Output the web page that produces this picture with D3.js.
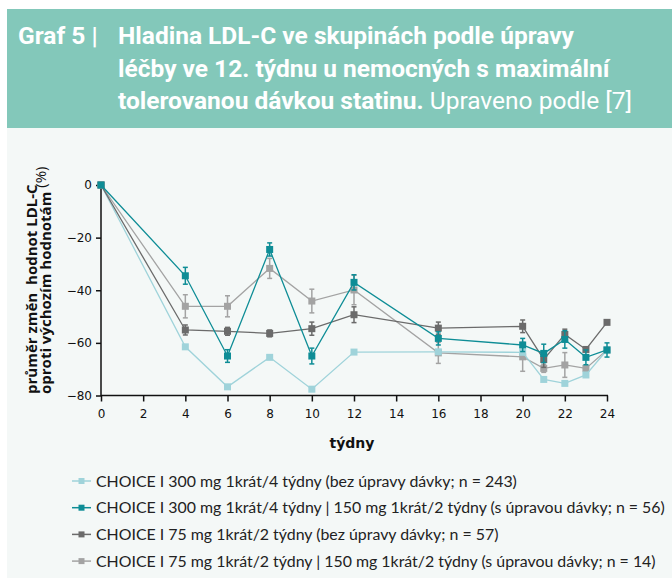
<!DOCTYPE html>
<html><head><meta charset="utf-8">
<script src="https://cdn.jsdelivr.net/npm/d3@7"></script>
<style>
html,body{margin:0;padding:0;background:#fff;}
svg{display:block;}
text{white-space:pre;}
</style></head>
<body>
<svg id="c" width="672" height="578"></svg>
<script>
const weeks = [0, 4, 6, 8, 10, 12, 16, 20, 21, 22, 23, 24];
const xTicks = [0, 2, 4, 6, 8, 10, 12, 14, 16, 18, 20, 22, 24];
const yTicks = [0, -20, -40, -60, -80];

const seriesNames = [
  "CHOICE I 300 mg 1krát/4 týdny (bez úpravy dávky; n = 243)",
  "CHOICE I 300 mg 1krát/4 týdny | 150 mg 1krát/2 týdny (s úpravou dávky; n = 56)",
  "CHOICE I 75 mg 1krát/2 týdny (bez úpravy dávky; n = 57)",
  "CHOICE I 75 mg 1krát/2 týdny | 150 mg 1krát/2 týdny (s úpravou dávky; n = 14)"
];
const seriesColors = ["#9fd3da", "#0e8d96", "#6b6b6b", "#a3a3a3"];

const lightBlue = [0, -61.5, -76.7, -65.5, -77.6, -63.5, -63.4, -63.6, -73.9, -75.4, -72.2, -62.7];
const lightBlueErr = [0, 0, 0, 0, 0, 0, 0, 0, 0, 0, 0, 0];
const teal = [0, -34.5, -65, -24.5, -65, -37, -58.3, -60.8, -64, -58.7, -65.5, -62.7];
const tealErr = [0, 3.2, 2.4, 2.5, 3, 2.9, 2.5, 2.5, 3.5, 3.3, 2.8, 2.7];
const darkGrey = [0, -55.1, -55.6, -56.4, -54.6, -49.3, -54.4, -53.7, -66.3, -56.8, -62.5, -52.2];
const darkGreyErr = [0, 1.9, 1.5, 1.3, 2.5, 3, 2.3, 2.4, 3, 2, 0, 0];
const lightGrey = [0, -46.1, -46.1, -31.7, -44.1, -39.9, -63.8, -65.3, -69.7, -68.4, -69.7, -62.7];
const lightGreyErr = [0, 4.4, 4, 3.8, 4.5, 5.6, 4, 5.5, 1.5, 4.7, 1, 0];

const titleLabel = "Graf 5 |";
const titleLines = ["Hladina LDL-C ve skupinách podle úpravy",
                    "léčby ve 12. týdnu u nemocných s maximální",
                    "tolerovanou dávkou statinu."];
const titleSuffix = " Upraveno podle [7]";
const yTitle1 = "průměr změn  hodnot LDL-C";
const yTitle2 = "oproti výchozím hodnotám";
const yUnit = " (%)";
const xTitle = "týdny";

const svg = d3.select("#c");
svg.append("rect").attr("x",7).attr("y",9).attr("width",665).attr("height",119).attr("fill","#83c8ba");
svg.append("rect").attr("x",7).attr("y",128).attr("width",665).attr("height",450).attr("fill","#f4f8f7");

const tf = "Roboto, 'Liberation Sans', sans-serif";
const tsz = 24.5;
svg.append("text").attr("x",18).attr("y",44).attr("fill","#fff").attr("font-family",tf)
  .attr("font-weight","bold").attr("font-size",tsz).text(titleLabel);
titleLines.forEach((t,i)=>{
  const tx = svg.append("text").attr("x",118).attr("y",44+i*32.5).attr("fill","#fff")
    .attr("font-family",tf).attr("font-size",tsz).attr("font-weight","bold").text(t);
  if(i===2){
    tx.append("tspan").attr("font-weight","normal").text(titleSuffix);
  }
});

const x = d3.scaleLinear().domain([0,24]).range([101,607]);
const y = d3.scaleLinear().domain([0,-80]).range([185,395.5]);
const af = "'DejaVu Sans', Verdana, sans-serif";
const yf = "'Open Sans', 'Noto Sans', sans-serif";
const lf = "Lato, 'Open Sans', sans-serif";

const xAxis = svg.append("g").attr("transform","translate(0,395.5)")
  .call(d3.axisBottom(x).tickValues(xTicks).tickSize(6).tickPadding(8).tickSizeOuter(0));
const yAxis = svg.append("g").attr("transform","translate(101,0)")
  .call(d3.axisLeft(y).tickValues(yTicks).tickSize(5).tickPadding(4).tickSizeOuter(0));
[xAxis,yAxis].forEach(a=>{
  a.selectAll("path,line").attr("stroke","#111").attr("stroke-width",1.5);
  a.selectAll("text").attr("font-family",af).attr("font-size",12).attr("fill","#111");
});
xAxis.select(".domain").attr("d","M101,0H608");
yAxis.select(".domain").attr("d","M0,183V396");

svg.append("text").attr("x",352).attr("y",448).attr("text-anchor","middle")
  .attr("font-family",af).attr("font-weight","bold").attr("font-size",14).attr("fill","#111").text(xTitle);
const yt = svg.append("g").attr("transform","translate(37,394) rotate(-90)");
yt.append("text").attr("x",0).attr("y",0).attr("font-family",yf).attr("font-weight","bold")
  .attr("font-size",15).attr("fill","#111").text(yTitle1);
const yt2 = yt.append("text").attr("x",0).attr("y",14).attr("font-family",yf).attr("font-weight","bold")
  .attr("font-size",15).attr("fill","#111").text(yTitle2);
yt2.append("tspan").attr("font-weight","normal").attr("dy",-5).text(yUnit);

const allSeries = [
  {vals: lightGrey, err: lightGreyErr, c: 3},
  {vals: lightBlue, err: lightBlueErr, c: 0},
  {vals: darkGrey, err: darkGreyErr, c: 2},
  {vals: teal, err: tealErr, c: 1}
];
const line = d3.line().x(d=>x(d.w)).y(d=>y(d.v));
const sq = 7;
allSeries.forEach(s=>{
  const col = seriesColors[s.c];
  const pts = weeks.map((w,i)=>({w, v:s.vals[i], e:s.err[i]}));
  const g = svg.append("g");
  g.append("path").attr("d",line(pts)).attr("fill","none").attr("stroke",col).attr("stroke-width",1.3);
  const eb = g.selectAll(".eb").data(pts.filter(p=>p.e>0)).join("g");
  eb.append("line").attr("x1",p=>x(p.w)).attr("x2",p=>x(p.w))
    .attr("y1",p=>y(p.v+p.e)).attr("y2",p=>y(p.v-p.e)).attr("stroke",col).attr("stroke-width",1.5);
  eb.append("line").attr("x1",p=>x(p.w)-2.5).attr("x2",p=>x(p.w)+2.5)
    .attr("y1",p=>y(p.v+p.e)).attr("y2",p=>y(p.v+p.e)).attr("stroke",col).attr("stroke-width",1.5);
  eb.append("line").attr("x1",p=>x(p.w)-2.5).attr("x2",p=>x(p.w)+2.5)
    .attr("y1",p=>y(p.v-p.e)).attr("y2",p=>y(p.v-p.e)).attr("stroke",col).attr("stroke-width",1.5);
  g.selectAll("rect").data(pts).join("rect")
    .attr("x",p=>x(p.w)-sq/2).attr("y",p=>y(p.v)-sq/2).attr("width",sq).attr("height",sq).attr("fill",col);
});

const leg = svg.append("g");
seriesNames.forEach((n,i)=>{
  const ly = 481 + i*26.7;
  const col = seriesColors[i];
  leg.append("line").attr("x1",72).attr("x2",91).attr("y1",ly).attr("y2",ly).attr("stroke",col).attr("stroke-width",1.5);
  leg.append("rect").attr("x",78.5).attr("y",ly-3).attr("width",6).attr("height",6).attr("fill",col);
  leg.append("text").attr("x",96).attr("y",ly+5.5).attr("font-family",lf).attr("font-size",15.9)
    .attr("fill","#222").text(n);
});
</script>
</body></html>
